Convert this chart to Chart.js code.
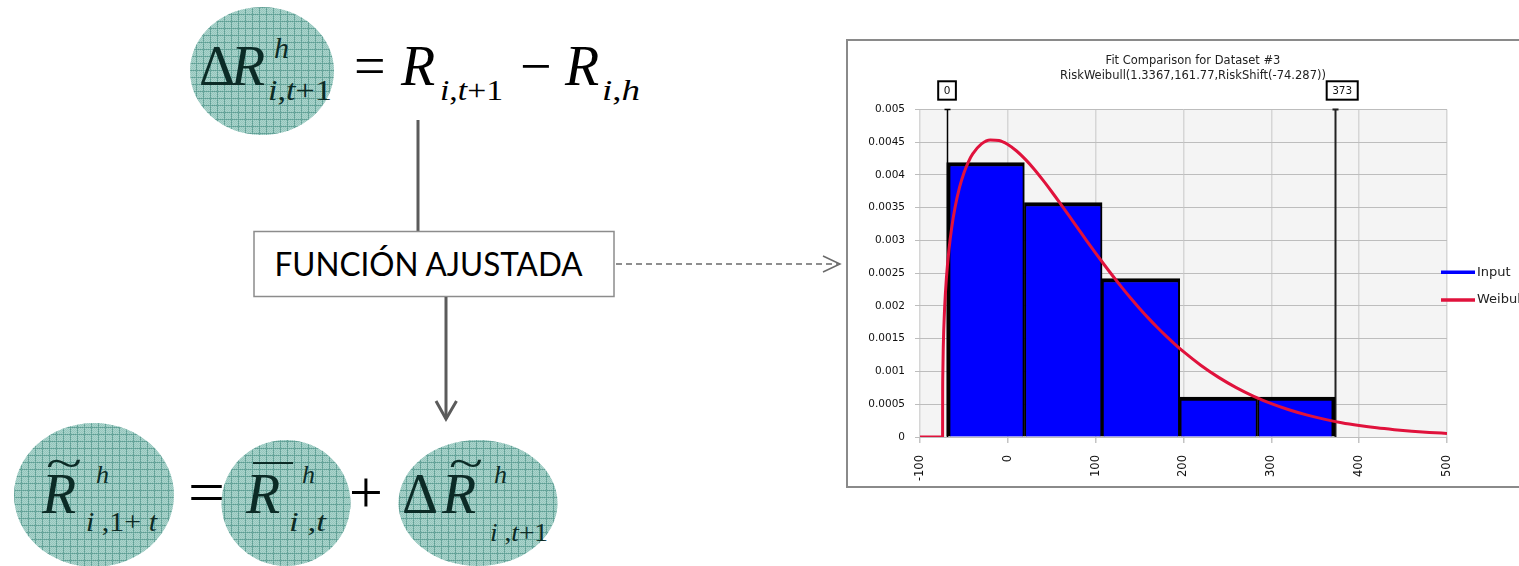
<!DOCTYPE html>
<html><head><meta charset="utf-8">
<script src="https://cdn.jsdelivr.net/npm/chart.js@4.4.0/dist/chart.umd.min.js"></script>
<style>
html,body{margin:0;padding:0;width:1519px;height:566px;overflow:hidden;background:#fff;}
#diagram{position:absolute;left:0;top:0;}
#frame{position:absolute;left:846px;top:39px;width:720px;height:445px;border:2px solid #8a8a8a;background:#fff;}
#c{position:absolute;left:848px;top:41px;}
.m{font-family:'Liberation Serif','DejaVu Serif',serif;}
.it{font-style:italic;}
</style></head><body>
<svg id="diagram" width="846" height="566" xmlns="http://www.w3.org/2000/svg">
<defs>
<pattern id="pt" width="7" height="7" patternUnits="userSpaceOnUse">
<rect width="7" height="7" fill="#aad4cc"/>
<path d="M0 .5H7M.5 0V7" stroke="#5e9e94" stroke-width="1"/>
</pattern>
<pattern id="dt" width="2" height="2" patternUnits="userSpaceOnUse">
<rect width="1" height="1" fill="#7fb6ac"/><rect x="1" y="1" width="1" height="1" fill="#7fb6ac"/>
</pattern>
</defs>
<g>
<ellipse cx="262" cy="71" rx="72" ry="64" fill="url(#pt)"/>
<ellipse cx="262" cy="71" rx="72" ry="64" fill="url(#dt)" opacity="0.5"/>
<ellipse cx="94" cy="495" rx="80" ry="72" fill="url(#pt)"/>
<ellipse cx="94" cy="495" rx="80" ry="72" fill="url(#dt)" opacity="0.5"/>
<ellipse cx="286" cy="503" rx="64.5" ry="63" fill="url(#pt)"/>
<ellipse cx="286" cy="503" rx="64.5" ry="63" fill="url(#dt)" opacity="0.5"/>
<ellipse cx="478" cy="503" rx="79.5" ry="63" fill="url(#pt)"/>
<ellipse cx="478" cy="503" rx="79.5" ry="63" fill="url(#dt)" opacity="0.5"/>
</g>
<!-- top formula -->
<g class="m" fill="#0c2b26">
<text x="199" y="85" font-size="56">Δ</text>
<text x="231" y="85" font-size="56" class="it">R</text>
<text x="274" y="58" font-size="30" class="it">h</text>
<text x="268" y="100" font-size="30" textLength="64" lengthAdjust="spacingAndGlyphs"><tspan class="it">i</tspan>,<tspan class="it">t</tspan>+1</text>
</g>
<g class="m" fill="#000">
<text x="354" y="85" font-size="56">=</text>
<text x="401" y="85" font-size="56" class="it">R</text>
<text x="440" y="100" font-size="30" textLength="63" lengthAdjust="spacingAndGlyphs"><tspan class="it">i</tspan>,<tspan class="it">t</tspan>+1</text>
<text x="520" y="85" font-size="56">−</text>
<text x="565" y="85" font-size="56" class="it">R</text>
<text x="602" y="100" font-size="30" textLength="38" lengthAdjust="spacingAndGlyphs"><tspan class="it">i</tspan>,<tspan class="it">h</tspan></text>
</g>
<!-- connectors -->
<line x1="418" y1="120" x2="418" y2="231" stroke="#5b5b5b" stroke-width="3"/>
<rect x="254" y="231.5" width="360" height="65" fill="#fff" stroke="#8c8c8c" stroke-width="1.5"/>
<text x="274.5" y="276" font-family="Lato,'Open Sans',sans-serif" font-size="32" fill="#000" textLength="308" lengthAdjust="spacingAndGlyphs">FUNCIÓN AJUSTADA</text>
<line x1="616" y1="264" x2="838" y2="264" stroke="#6a6a6a" stroke-width="1.5" stroke-dasharray="6 4"/>
<polyline points="823,256 840,264 823,272" fill="none" stroke="#6a6a6a" stroke-width="1.5"/>
<line x1="446" y1="297" x2="446" y2="419" stroke="#5b5b5b" stroke-width="3"/>
<polyline points="436,401 446,419 456.5,401" fill="none" stroke="#5b5b5b" stroke-width="3"/>
<!-- bottom formula -->
<g class="m" fill="#0c2b26">
<text x="46" y="478" font-size="44" textLength="36" lengthAdjust="spacingAndGlyphs">~</text>
<text x="42" y="513" font-size="56" class="it">R</text>
<text x="96" y="483" font-size="26" class="it">h</text>
<text x="86" y="531" font-size="27" textLength="71" lengthAdjust="spacingAndGlyphs"><tspan class="it">i</tspan> ,1+ <tspan class="it">t</tspan></text>
<line x1="253" y1="463" x2="293" y2="463" stroke="#0c2b26" stroke-width="2"/>
<text x="246" y="513" font-size="56" class="it">R</text>
<text x="302" y="483" font-size="26" class="it">h</text>
<text x="289" y="531" font-size="27" textLength="37" lengthAdjust="spacingAndGlyphs"><tspan class="it">i</tspan> ,<tspan class="it">t</tspan></text>
<text x="402" y="513" font-size="56">Δ</text>
<text x="449" y="478" font-size="44" textLength="34" lengthAdjust="spacingAndGlyphs">~</text>
<text x="442" y="513" font-size="56" class="it">R</text>
<text x="494" y="483" font-size="26" class="it">h</text>
<text x="490" y="541" font-size="26" textLength="58" lengthAdjust="spacingAndGlyphs"><tspan class="it">i</tspan> ,<tspan class="it">t</tspan>+1</text>
</g>
<g class="m" fill="#000">
<text x="188" y="513" font-size="62" textLength="37" lengthAdjust="spacingAndGlyphs">=</text>
<text x="349" y="512" font-size="60">+</text>
</g>
</svg>
<div id="frame"></div>
<canvas id="c" width="690" height="445"></canvas>
<script>
// ---- data ----
const titleLines = ['Fit Comparison for Dataset #3', 'RiskWeibull(1.3367,161.77,RiskShift(-74.287))'];
const seriesNames = ['Input', 'Weibull'];
const binCenters = [-25.4, 63.1, 151.5, 240.0, 328.5];
const binDensity = [0.00419, 0.00358, 0.00242, 0.00061, 0.00061];
const weibullX = [-100, -74.29, -74.2, -74, -73.5, -73, -72, -70, -67, -64, -60, -55, -50, -45, -40, -30, -20, -10, 0, 10, 20, 30, 40, 50, 60, 70, 80, 90, 100, 110, 120, 130, 140, 150, 160, 170, 180, 190, 200, 220, 240, 260, 280, 300, 320, 340, 360, 380, 400, 420, 440, 460, 480, 500];
const weibullY = [0, 0, 0.000655, 0.000979, 0.001374, 0.001620, 0.001963, 0.002414, 0.002864, 0.003186, 0.003510, 0.003809, 0.004031, 0.004198, 0.004322, 0.004475, 0.004535, 0.004526, 0.004465, 0.004366, 0.004238, 0.004088, 0.003921, 0.003744, 0.003559, 0.003371, 0.003181, 0.002992, 0.002807, 0.002626, 0.002450, 0.002281, 0.002118, 0.001963, 0.001815, 0.001675, 0.001543, 0.001419, 0.001302, 0.001092, 0.000910, 0.000754, 0.000621, 0.000509, 0.000416, 0.000337, 0.000273, 0.000219, 0.000176, 0.000140, 0.000112, 0.0000885, 0.0000699, 0.0000549];
const markerValues = [-69.6, 372.7];
const markerLabels = ['0', '373'];
const xTickLabels = ['-100', '0', '100', '200', '300', '400', '500'];
const yTickLabels = ['0', '0.0005', '0.001', '0.0015', '0.002', '0.0025', '0.003', '0.0035', '0.004', '0.0045', '0.005'];

const FONT = "'DejaVu Sans', Verdana, sans-serif";
const BLUE = '#0000ff', RED = '#e0123c';
const nBins = binCenters.length;

const plotBg = {
  id: 'plotBg',
  beforeDraw(chart) {
    const {ctx, chartArea: a} = chart;
    ctx.save(); ctx.fillStyle = '#f4f4f4';
    ctx.fillRect(a.left, a.top, a.right - a.left, a.bottom - a.top);
    ctx.restore();
  }
};
const markers = {
  id: 'markers',
  beforeDatasetsDraw(chart) {
    const {ctx, chartArea: a, scales: {x}} = chart;
    ctx.save();
    markerValues.forEach((v, i) => {
      const px = Math.round(x.getPixelForValue(v)) + 0.5;
      ctx.strokeStyle = i === 0 ? '#000' : '#222';
      ctx.lineWidth = i === 0 ? 1.5 : 2;
      ctx.beginPath(); ctx.moveTo(px, a.top); ctx.lineTo(px, a.bottom); ctx.stroke();
      ctx.beginPath(); ctx.moveTo(px - 3, a.top); ctx.lineTo(px + 3, a.top); ctx.stroke();
    });
    ctx.restore();
  },
  afterDraw(chart) {
    const {ctx, chartArea: a, scales: {x}} = chart;
    ctx.save();
    ctx.font = '10.5px ' + FONT;
    markerValues.forEach((v, i) => {
      const px = x.getPixelForValue(v);
      const w = ctx.measureText(markerLabels[i]).width + 11;
      const left = px - 8.5, top = a.top - 28.2, h = 18.4;
      ctx.fillStyle = '#fff'; ctx.fillRect(left, top, w, h);
      ctx.strokeStyle = '#000'; ctx.lineWidth = 2; ctx.strokeRect(left, top, w, h);
      ctx.fillStyle = '#111'; ctx.textAlign = 'center'; ctx.textBaseline = 'middle';
      ctx.fillText(markerLabels[i], left + w / 2, top + h / 2 + 0.5);
    });
    // legend
    const colors = [BLUE, RED];
    const ys = [a.top + 162.8, a.top + 190.5];
    ctx.font = '13px ' + FONT; ctx.textAlign = 'left'; ctx.textBaseline = 'middle';
    seriesNames.forEach((name, i) => {
      const x0 = a.right - 6;
      ctx.strokeStyle = colors[i]; ctx.lineWidth = 3.5;
      ctx.beginPath(); ctx.moveTo(x0, ys[i]); ctx.lineTo(x0 + 34, ys[i]); ctx.stroke();
      ctx.fillStyle = '#222';
      ctx.fillText(name, x0 + 36, ys[i]);
    });
    ctx.restore();
  }
};

new Chart(document.getElementById('c'), {
  type: 'bar',
  data: {
    datasets: [
      {
        type: 'bar', label: seriesNames[0], order: 2,
        data: binCenters.map((c, i) => ({x: c, y: binDensity[i]})),
        backgroundColor: BLUE, borderColor: '#000',
        borderWidth: (ctx) => ({top: 4, bottom: 0, left: ctx.dataIndex === 0 ? 4 : 2, right: ctx.dataIndex === nBins - 1 ? 4 : 2}),
        borderSkipped: 'start', barPercentage: 1, categoryPercentage: 1
      },
      {
        type: 'line', label: seriesNames[1], order: 1,
        data: weibullX.map((v, i) => ({x: v, y: weibullY[i]})),
        borderColor: RED, borderWidth: 3, pointRadius: 0, fill: false,
        cubicInterpolationMode: 'monotone'
      }
    ]
  },
  options: {
    responsive: false, animation: false, devicePixelRatio: 1,
    layout: {padding: 0},
    plugins: {
      legend: {display: false}, tooltip: {enabled: false},
      title: {
        display: true, text: titleLines, color: '#222',
        font: {family: FONT, size: 11.5, weight: 'normal', lineHeight: 1.36},
        padding: {top: 11.9, bottom: 25.3}
      }
    },
    scales: {
      x: {
        type: 'linear', min: -100, max: 500, offset: false,
        ticks: {stepSize: 100, minRotation: 90, maxRotation: 90, autoSkip: false, padding: 12,
          font: {family: FONT, size: 11.5}, color: '#111',
          callback: (v, i) => xTickLabels[i]},
        grid: {offset: false, color: '#d6d6d6', lineWidth: 1.5, tickColor: '#c4c4c4', tickLength: 6},
        border: {display: false},
        afterFit: (s) => { s.height = 49; }
      },
      y: {
        type: 'linear', min: 0, max: 0.005,
        ticks: {stepSize: 0.0005, padding: 10, font: {family: FONT, size: 10.5}, color: '#111',
          callback: (v, i) => yTickLabels[i]},
        grid: {color: '#bdbdbd', lineWidth: 1, tickColor: '#bdbdbd', tickLength: 5},
        border: {display: false},
        afterFit: (s) => { s.width = 72; }
      },
      y2: {
        type: 'linear', position: 'right', min: 0, max: 1, display: true,
        ticks: {display: false}, grid: {display: false}, border: {display: false},
        afterFit: (s) => { s.width = 91; }
      }
    }
  },
  plugins: [plotBg, markers]
});
</script>
</body></html>
